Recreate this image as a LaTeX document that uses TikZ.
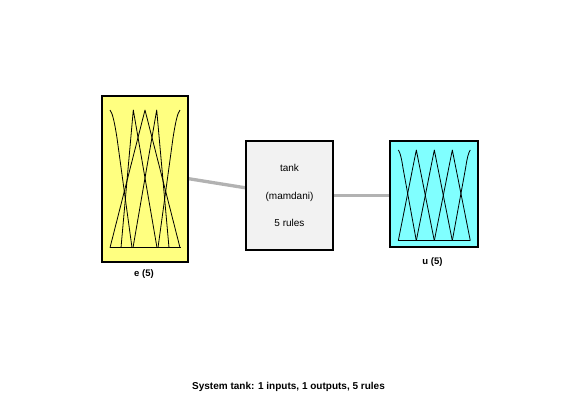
\documentclass[tikz,border=0pt]{standalone}
\usepackage{fontspec}
\setmainfont{Liberation Sans}
\usetikzlibrary{calc,backgrounds}
\definecolor{inyellow}{RGB}{255,255,128}
\definecolor{outcyan}{RGB}{128,255,255}
\definecolor{rulegray}{RGB}{242,242,242}
\definecolor{linkgray}{RGB}{178,178,178}
\begin{document}
\begin{tikzpicture}[x=1pt,y=-1pt,
  varbox/.style={draw=black, line width=2pt, inner sep=0pt},
  mfline/.style={line width=0.8pt, black, line join=round},
  link/.style={draw=linkgray, line width=3.3pt},
  lab/.style={font=\fontsize{9.5}{11}\selectfont\bfseries, inner sep=0pt},
  txt/.style={font=\fontsize{10}{12}\selectfont, inner sep=0pt}]
\useasboundingbox (0,0) rectangle (561,407);

% boxes
\node[varbox, fill=inyellow, minimum width=86pt, minimum height=165.5pt] (in) at (145,178.75) {};
\node[varbox, fill=outcyan, minimum width=88pt, minimum height=106pt] (out) at (434,194) {};
\node[varbox, fill=rulegray, minimum width=87pt, minimum height=109pt] (rb) at (289.5,195.5) {};

% connectors
\coordinate (rbin) at ($(rb.north west)!0.43!(rb.south west)$);
\begin{scope}[on background layer]
\fill[white] (0,0) rectangle (561,407);
\draw[link] (in.east) -- (rbin);
\draw[link] (rb.east) -- (rb.east -| out.west);
\end{scope}

% rule box text
\node[txt] (t1) at (289.5,168) {tank};
\node[txt] (t2) at (289.5,197) {(mamdani)};
\node[txt] (t3) at (289.5,223) {5 rules};

% labels
\node[lab] (lin) at (144,274) {e (5)};
\node[lab] (lout) at (432.5,262.5) {u (5)};
\node[font=\fontsize{10}{12}\selectfont\bfseries, inner sep=0pt] (title) at (288.5,387) {System tank: 1 inputs, 1 outputs, 5 rules};

% input membership functions
\draw[mfline] (109.5,247.7) -- (181,247.7);
\draw[mfline] (110,110) .. controls (112.5,113) and (114.5,122) .. (117,138) -- (132,247.7);
\draw[mfline] (180,110) .. controls (177.5,113) and (175.5,122) .. (173,138) -- (158,247.7);
\draw[mfline] (121,247.7) -- (133.3,110) -- (157,247.7);
\draw[mfline] (110,247.7) -- (145,110) -- (180,247.7);
\draw[mfline] (133,247.7) -- (156.7,110) -- (169,247.7);

% output membership functions
\draw[mfline] (398.3,240.7) -- (470.3,240.7);
\draw[mfline] (398.3,150) .. controls (400,152) and (401.5,158) .. (403,168) -- (416.3,240.7);
\draw[mfline] (470.3,150) .. controls (468.6,152) and (467.1,158) .. (465.6,168) -- (452.3,240.7);
\draw[mfline] (398.3,240.7) -- (416.3,150) -- (434.3,240.7);
\draw[mfline] (416.3,240.7) -- (434.3,150) -- (452.3,240.7);
\draw[mfline] (434.3,240.7) -- (452.3,150) -- (470.3,240.7);
\end{tikzpicture}
\end{document}
